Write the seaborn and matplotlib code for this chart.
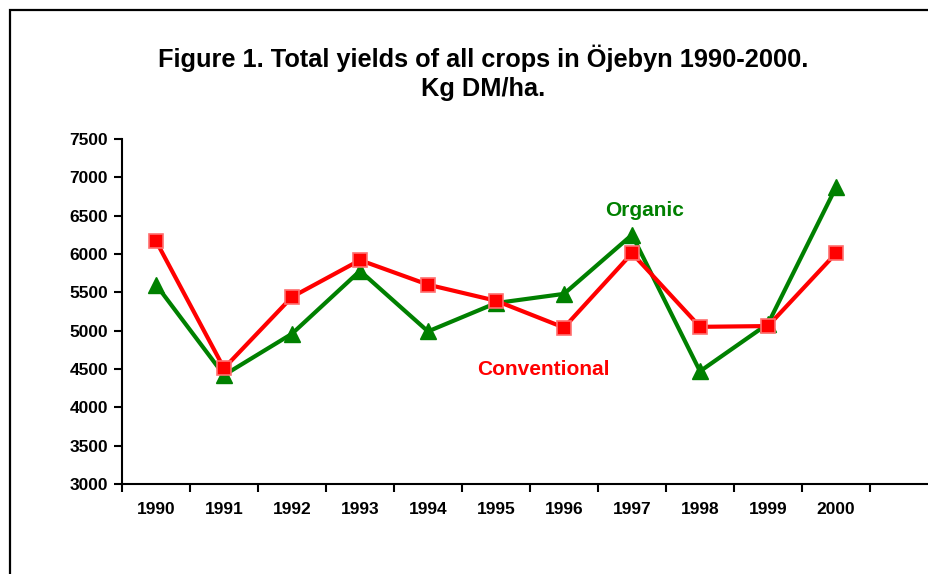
import matplotlib
matplotlib.use("Agg")
import matplotlib.pyplot as plt
import seaborn as sns
import pandas as pd
from matplotlib.patches import Rectangle

years = [1990, 1991, 1992, 1993, 1994, 1995, 1996, 1997, 1998, 1999, 2000]
conventional = [6170, 4510, 5440, 5920, 5600, 5390, 5040, 6010, 5050, 5060, 6010]
organic = [5600, 4420, 4960, 5780, 4990, 5360, 5480, 6250, 4470, 5090, 6870]
y_ticks = [3000, 3500, 4000, 4500, 5000, 5500, 6000, 6500, 7000, 7500]
title = "Figure 1. Total yields of all crops in Öjebyn 1990-2000.\nKg DM/ha."

sns.set_theme(style="white")
plt.rcParams['font.family'] = ['Liberation Sans', 'DejaVu Sans']
plt.rcParams['font.weight'] = 'bold'
plt.rcParams['text.color'] = 'black'
plt.rcParams['xtick.color'] = 'black'
plt.rcParams['ytick.color'] = 'black'
plt.rcParams['xtick.labelcolor'] = 'black'
plt.rcParams['ytick.labelcolor'] = 'black'

df = pd.DataFrame({"year": years, "Conventional": conventional, "Organic": organic})

W, H = 929, 574
fig = plt.figure(figsize=(W / 100, H / 100), dpi=100)
ax = fig.add_axes([122 / W, (H - 484) / H, 816 / W, 345 / H])

sns.lineplot(data=df, x="year", y="Organic", ax=ax, color="#008000", lw=3,
             marker="^", markersize=12, markeredgecolor="#008000", markeredgewidth=1)
sns.lineplot(data=df, x="year", y="Conventional", ax=ax, color="#ff0000", lw=3,
             marker="s", markersize=10, markerfacecolor="#ff0000",
             markeredgecolor="#ff7070", markeredgewidth=1.2)

ax.set_xlim(years[0] - 0.5, years[-1] + 1.5)
ax.set_ylim(y_ticks[0], y_ticks[-1])
ax.set_yticks(y_ticks)
ax.set_yticklabels([str(v) for v in y_ticks], fontsize=12.5, fontweight='bold', color='black')
ax.set_xticks([y - 0.5 for y in years] + [years[-1] + 0.5])
ax.set_xticklabels([])
ax.set_xticks(years, minor=True)
ax.set_xticklabels([str(y) for y in years], minor=True, fontsize=12.5, fontweight='bold', color='black')
ax.tick_params(axis='x', which='major', direction='out', length=6, width=1.5, color='black', bottom=True)
ax.tick_params(axis='x', which='minor', length=0, pad=13)
ax.tick_params(axis='y', direction='out', length=6, width=1.5, color='black', left=True, pad=4)
ax.set_xlabel("")
ax.set_ylabel("")
for s in ['top', 'right']:
    ax.spines[s].set_visible(False)
for s in ['left', 'bottom']:
    ax.spines[s].set_color('black')
    ax.spines[s].set_linewidth(1.5)
ax.spines['left'].set_zorder(5)

ax.text(1997.18, 6573, "Organic", color="#008000", fontsize=15, fontweight='bold', ha='center', va='center')
ax.text(1995.69, 4487, "Conventional", color="#ff0000", fontsize=15, fontweight='bold', ha='center', va='center')

fig.text(483.5 / W, (H - 73) / H, title, ha='center', va='center', fontsize=18.3,
         fontweight='bold', linespacing=1.25, color='black')

fig.patches.append(Rectangle((10 / W, -0.1), 1.2, (H - 10) / H + 0.1, transform=fig.transFigure,
                             fill=False, edgecolor='black', linewidth=1.6))

fig.savefig("out.png", dpi=100)
